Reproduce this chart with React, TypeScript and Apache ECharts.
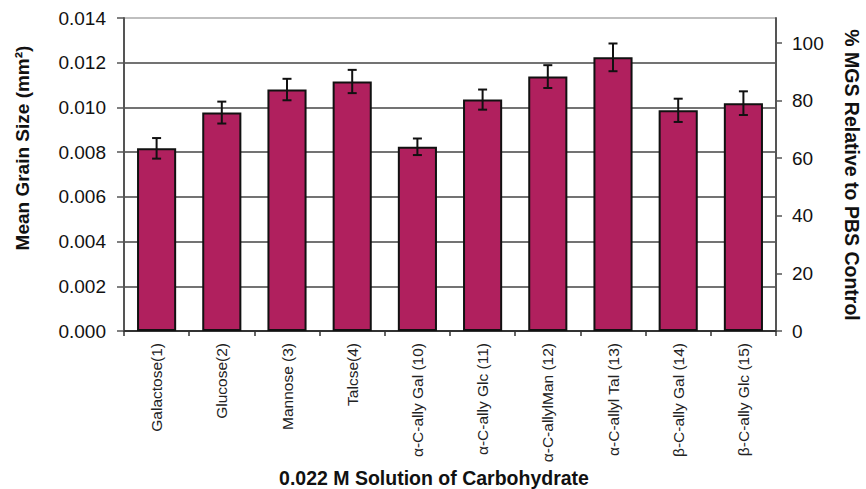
import React, { useEffect, useRef } from "react";
import * as echarts from "echarts";

const categories = [
  "Galactose(1)",
  "Glucose(2)",
  "Mannose (3)",
  "Talcse(4)",
  "α-C-ally Gal (10)",
  "α-C-ally Glc (11)",
  "α-C-allylMan (12)",
  "α-C-allyl Tal (13)",
  "β-C-ally Gal (14)",
  "β-C-ally Glc (15)",
];
const meanGrainSize = [0.00817, 0.00977, 0.0108, 0.01116, 0.00824, 0.01035, 0.01138, 0.01224, 0.00987, 0.01019];
const errorValues = [0.00046, 0.00049, 0.00048, 0.00052, 0.00037, 0.00045, 0.00051, 0.00062, 0.00052, 0.00053];
const leftTicks = { min: 0, max: 0.014, interval: 0.002 };
const rightTicks = { min: 0, max: 108.7, interval: 20 };

const FONT = "'Liberation Sans', Arial, sans-serif";

export default function App() {
  const ref = useRef<HTMLDivElement>(null);
  useEffect(() => {
    if (!ref.current) return;
    const chart = echarts.init(ref.current, null, { renderer: "svg" });
    const errData = meanGrainSize.map((v, i) => [i, v, errorValues[i]]);
    chart.setOption({
      animation: false,
      backgroundColor: "#ffffff",
      textStyle: { fontFamily: FONT },
      grid: { left: 124, right: 90, top: 18, bottom: 158, containLabel: false },
      xAxis: {
        type: "category",
        data: categories,
        boundaryGap: true,
        axisLine: { show: true, lineStyle: { color: "#333", width: 2 } },
        axisTick: { show: true, alignWithLabel: false, length: 5, lineStyle: { color: "#333", width: 1.5 } },
        axisLabel: { interval: 0, rotate: 90, fontSize: 15.5, color: "#222", margin: 12, fontFamily: FONT },
        splitLine: { show: false },
      },
      yAxis: [
        {
          type: "value",
          min: leftTicks.min,
          max: leftTicks.max,
          interval: leftTicks.interval,
          position: "left",
          axisLine: { show: true, lineStyle: { color: "#555", width: 2 } },
          axisTick: { show: true, length: 7, lineStyle: { color: "#555", width: 1.5 } },
          axisLabel: {
            fontSize: 19,
            color: "#111",
            margin: 18,
            fontFamily: FONT,
            formatter: (v: number) => v.toFixed(3),
          },
          splitLine: {
            show: true,
            lineStyle: { color: ["#333", "#444", "#444", "#444", "#444", "#444", "#444", "#aaa"], width: 1.6 },
          },
        },
        {
          type: "value",
          min: rightTicks.min,
          max: rightTicks.max,
          interval: rightTicks.interval,
          position: "right",
          axisLine: { show: true, lineStyle: { color: "#555", width: 2 } },
          axisTick: { show: true, length: 6, lineStyle: { color: "#555", width: 1.5 } },
          axisLabel: { fontSize: 19, color: "#111", margin: 16, showMaxLabel: false, fontFamily: FONT },
          splitLine: { show: false },
        },
      ],
      graphic: [
        {
          type: "text",
          x: 22,
          y: 148,
          rotation: Math.PI / 2,
          style: {
            text: "Mean Grain Size (mm²)",
            font: `bold 19px ${FONT}`,
            fill: "#111",
            align: "center",
            verticalAlign: "middle",
          },
        },
        {
          type: "text",
          x: 852,
          y: 175,
          rotation: -Math.PI / 2,
          style: {
            text: "% MGS Relative to PBS Control",
            font: `bold 19.5px ${FONT}`,
            fill: "#111",
            align: "center",
            verticalAlign: "middle",
          },
        },
        {
          type: "text",
          x: 434,
          y: 478,
          style: {
            text: "0.022 M Solution of Carbohydrate",
            font: `bold 19.5px ${FONT}`,
            fill: "#111",
            align: "center",
            verticalAlign: "middle",
          },
        },
      ],
      series: [
        {
          type: "bar",
          data: meanGrainSize,
          yAxisIndex: 0,
          barWidth: "60%",
          itemStyle: { color: "#B0205E", borderColor: "#111", borderWidth: 2 },
        },
        {
          type: "custom",
          yAxisIndex: 0,
          data: errData,
          z: 10,
          renderItem: (params: any, api: any) => {
            const idx = api.value(0);
            const v = api.value(1);
            const e = api.value(2);
            const hi = api.coord([idx, v + e]);
            const lo = api.coord([idx, v - e]);
            const hw = 4.5;
            const style = { stroke: "#111", lineWidth: 2 };
            return {
              type: "group",
              children: [
                { type: "line", shape: { x1: hi[0], y1: hi[1], x2: lo[0], y2: lo[1] }, style },
                { type: "line", shape: { x1: hi[0] - hw, y1: hi[1], x2: hi[0] + hw, y2: hi[1] }, style },
                { type: "line", shape: { x1: lo[0] - hw, y1: lo[1], x2: lo[0] + hw, y2: lo[1] }, style },
              ],
            };
          },
        },
      ],
    });
    return () => chart.dispose();
  }, []);
  return (
    <div
      ref={ref}
      style={{ position: "fixed", left: 0, top: 0, width: 866, height: 489, background: "#fff" }}
    />
  );
}
